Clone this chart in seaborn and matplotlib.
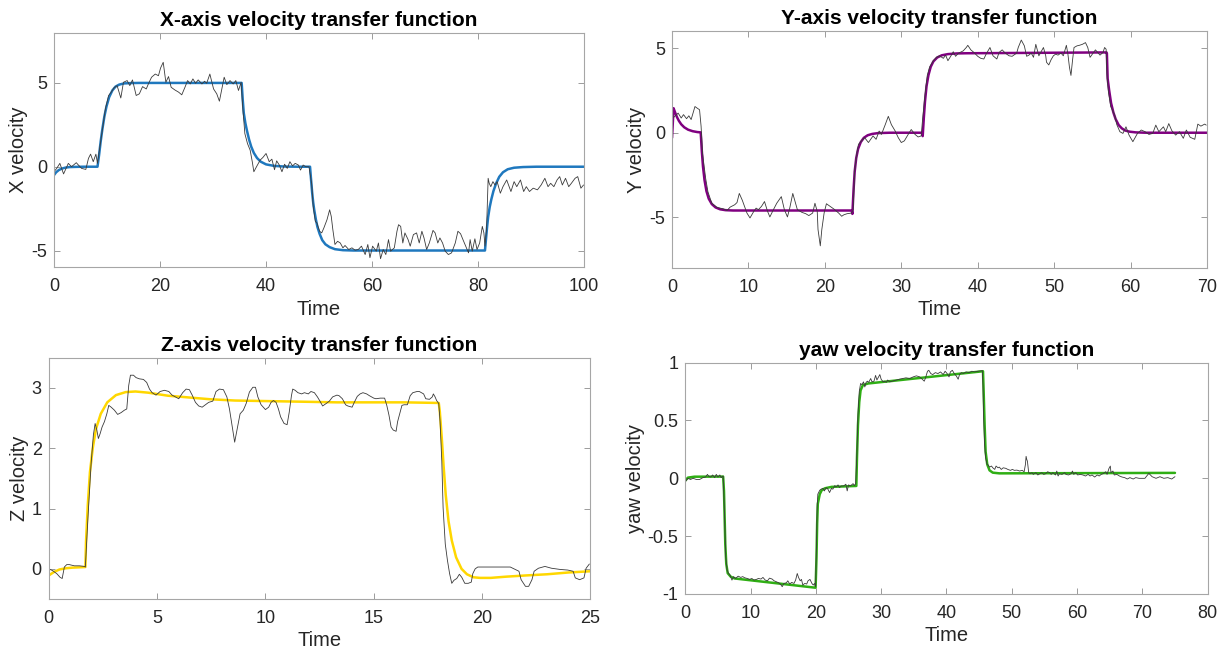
import matplotlib
matplotlib.use("Agg")
import matplotlib.pyplot as plt
import seaborn as sns
import pandas as pd

# ---------------- X axis ----------------
x_meas_t = [0, 0.5, 1.1, 1.8, 2.7, 3.3, 4.2, 4.6, 5.2, 6.0, 6.5, 6.9, 7.4, 7.9, 8.2,
            8.7, 9.2, 9.7, 10.3, 10.8, 11.3, 11.9, 12.6, 13.1, 13.8, 14.3, 14.8, 15.5,
            16.1, 16.7, 17.4, 17.8, 18.4, 19.1, 19.7, 20.1, 20.6, 21.1, 21.6, 22.1, 22.8,
            23.5, 24.1, 24.7, 25.2, 25.7, 26.2, 26.7, 27.2, 27.9, 28.4, 28.8, 29.4, 30.1,
            30.7, 31.2, 31.6, 32.1, 32.6, 33.2, 33.8, 34.3, 34.8, 35.3, 35.6, 36.0, 36.5,
            37.0, 37.4, 37.7, 38.2, 38.9, 39.4, 40.0, 40.6, 41.1, 41.6, 42.0, 42.5, 43.0,
            43.5, 44.0, 44.5, 45.0, 45.5, 46.1, 46.5, 47.0, 47.5, 48.1, 48.6, 48.9, 49.3,
            49.6, 50.1, 50.5, 50.9, 51.5, 52.0, 52.3, 52.6, 53.0, 53.5, 54.0, 54.5, 54.9,
            55.6, 56.2, 56.8, 57.4, 58.0, 58.7, 59.2, 59.6, 60.1, 60.8, 61.2, 61.6, 62.1,
            62.6, 63.1, 63.5, 64.2, 64.7, 65.0, 65.4, 65.8, 66.2, 66.8, 67.2, 67.8, 68.4,
            68.9, 69.4, 69.8, 70.3, 70.8, 71.5, 71.9, 72.4, 72.8, 73.3, 73.8, 74.4, 75.0,
            75.7, 76.2, 76.7, 77.2, 77.8, 78.2, 78.5, 78.9, 79.4, 79.8, 80.3, 80.8, 81.1,
            81.3, 81.6, 81.9, 82.1, 82.4, 82.8, 83.2, 83.6, 84.2, 84.7, 85.4, 86.2, 86.8,
            87.3, 88.0, 88.6, 89.1, 89.7, 90.4, 91.2, 91.9, 92.6, 93.2, 93.7, 94.3, 94.9,
            95.4, 95.9, 96.5, 97.1, 97.6, 98.3, 98.8, 99.4, 99.9]
x_meas_v = [-0.3, -0.1, 0.2, -0.43, 0.2, 0.0, 0.24, 0.1, -0.1, -0.16, 0.5, 0.75, 0.3, 0.75, 0.2,
            1.3, 2.37, 3.46, 4.25, 4.45, 4.7, 4.84, 4.1, 5.04, 5.14, 4.84, 5.18, 4.25,
            4.35, 4.78, 4.64, 4.94, 5.34, 5.53, 5.43, 5.89, 6.23, 5.04, 5.38, 4.74, 4.58,
            4.45, 4.29, 4.74, 5.14, 4.94, 5.24, 4.98, 5.18, 4.94, 5.1, 4.98, 5.53, 4.64,
            4.35, 3.91, 4.55, 5.34, 4.9, 5.14, 4.94, 5.14, 4.55, 5.04, 3.56, 1.98, 1.38,
            0.99, 0.3, -0.3, 0.0, 0.4, 0.55, 0.79, 0.3, 0.45, -0.18, 0.35, 0.1, -0.3,
            0.15, -0.1, 0.3, 0.05, 0.2, 0.1, -0.2, 0.1, 0.0, 0.0, -1.0, -2.37, -3.26,
            -3.36, -3.85, -3.95, -3.66, -3.16, -2.57, -2.96, -3.75, -4.64, -4.45, -4.55, -4.84, -4.7,
            -4.94, -4.84, -4.98, -4.94, -4.74, -5.24, -4.64, -5.43, -4.74, -5.04, -4.55, -5.49, -4.94,
            -5.24, -4.35, -5.04, -4.84, -3.85, -3.46, -3.56, -4.55, -3.95, -4.35, -4.74, -4.05, -3.95,
            -4.55, -3.85, -4.25, -4.94, -4.55, -3.8, -3.95, -4.55, -4.25, -4.55, -5.04, -5.24, -5.14,
            -4.55, -3.85, -4.0, -4.39, -4.84, -5.14, -4.35, -5.04, -4.3, -4.94, -4.55, -3.56, -3.95,
            -4.74, -3.75, -0.69, -0.99, -1.19, -0.89, -1.09, -0.89, -1.58, -1.19, -0.79, -1.48, -0.89,
            -1.19, -0.79, -1.48, -1.19, -1.48, -1.28, -1.38, -1.09, -0.69, -1.19, -0.99, -1.19, -0.79,
            -0.59, -1.09, -0.69, -1.19, -0.99, -0.69, -0.59, -1.28, -1.09]
x_model_t = [0, 0.4, 0.9, 1.5, 2.2, 3.0, 4.0, 5.5, 8.2,
             8.5, 8.8, 9.1, 9.5, 9.9, 10.4, 11.0, 11.6, 12.3, 13.2, 14.5, 16.0,
             35.4, 35.6, 35.8, 36.1, 36.4, 36.8, 37.2, 37.7, 38.3, 39.0, 40.0, 41.5, 43.5, 46.0,
             48.3, 48.5, 48.7, 48.9, 49.1, 49.4, 49.7, 50.1, 50.6, 51.2, 52.0, 53.0, 54.5, 56.5,
             81.3, 81.5, 81.7, 81.9, 82.2, 82.5, 82.9, 83.4, 84.0, 84.7, 85.6, 86.8, 88.5, 91.0, 100]
x_model_v = [-0.5, -0.33, -0.2, -0.11, -0.05, -0.02, -0.01, 0, 0,
             0.7, 1.5, 2.2, 3.0, 3.6, 4.15, 4.55, 4.78, 4.9, 4.97, 4.99, 5.0,
             5.0, 4.0, 3.2, 2.6, 2.15, 1.62, 1.2, 0.82, 0.52, 0.3, 0.14, 0.05, 0.01, 0,
             0, -0.8, -1.55, -2.15, -2.6, -3.15, -3.6, -4.0, -4.38, -4.63, -4.8, -4.92, -4.98, -5.0,
             -5.0, -4.3, -3.6, -3.0, -2.4, -1.95, -1.45, -1.0, -0.6, -0.33, -0.15, -0.06, -0.02, 0, 0]

# ---------------- Y axis ----------------
y_meas_t = [0.2, 0.35, 0.8, 1.2, 1.5, 1.9, 2.2, 2.5, 3.0, 3.3, 3.6, 3.8, 4.0, 4.4, 4.7, 5.2,
            5.9, 6.7, 7.2, 7.6, 8.2, 8.5, 8.8, 9.2, 9.8, 10.2, 10.7, 11.0, 11.3, 11.7, 12.1,
            12.5, 12.8, 13.3, 13.7, 14.3, 14.7, 15.1, 15.4, 15.8, 16.1, 16.4, 17.0, 17.5, 17.9,
            18.4, 18.7, 19.0, 19.1, 19.4, 19.6, 19.9, 20.2, 20.7, 21.2, 21.8, 22.2, 22.5, 22.9,
            23.5, 23.7, 23.9, 24.2, 24.4, 24.8, 25.2, 25.7, 26.0, 26.3, 26.7, 27.1, 27.4, 27.9,
            28.3, 28.7, 29.2, 29.6, 30.0, 30.4, 30.9, 31.3, 31.8, 32.2, 32.6, 32.8, 33.1, 33.4,
            33.7, 34.2, 34.6, 35.0, 35.5, 35.8, 36.1, 36.5, 36.8, 37.1, 37.5, 38.1, 38.5, 38.7,
            39.1, 39.5, 40.0, 40.4, 40.8, 41.1, 41.6, 42.0, 42.5, 42.8, 43.2, 43.6, 44.1, 44.5,
            45.1, 45.3, 45.7, 46.1, 46.4, 46.7, 47.0, 47.3, 47.6, 48.0, 48.3, 48.6, 48.9, 49.0,
            49.3, 49.6, 49.9, 50.2, 50.5, 50.9, 51.2, 51.6, 51.8, 52.0, 52.2, 52.4, 52.6, 53.0,
            53.3, 53.7, 54.1, 54.4, 54.7, 55.0, 55.4, 55.7, 56.0, 56.4, 56.6, 56.8, 56.9, 57.1,
            57.4, 57.9, 58.2, 58.6, 59.0, 59.4, 59.8, 60.3, 60.9, 61.4, 61.9, 62.4, 62.9, 63.3,
            63.7, 64.3, 64.6, 65.0, 65.4, 65.9, 66.4, 66.9, 67.3, 67.8, 68.4, 68.8, 69.2, 69.7, 69.9]
y_meas_v = [0.9, 0.97, 1.16, 0.87, 1.07, 0.83, 1.0, 0.78, 1.55, 1.45, 1.36, 0.39, -1.26, -2.7, -3.5, -4.17,
            -4.42, -4.5, -4.6, -4.4, -4.26, -4.13, -3.59, -4.0, -4.75, -5.04, -4.65, -4.46, -4.55, -4.36, -4.07,
            -4.65, -4.98, -4.52, -4.17, -3.78, -4.55, -4.98, -4.46, -3.59, -4.07, -4.55, -4.71, -4.79, -4.9,
            -4.75, -4.17, -4.65, -5.72, -6.69, -5.72, -4.75, -4.2, -4.36, -4.52, -4.75, -4.94, -4.85, -4.79,
            -4.75, -4.55, -2.23, -1.16, -0.68, -0.48, -0.29, -0.58, -0.39, -0.19, -0.39, 0.1, -0.1, 0.48,
            0.97, 0.48, 0.1, -0.29, -0.58, -0.48, -0.1, 0.19, -0.1, -0.25, -0.19, 0.87, 2.23, 3.39,
            3.88, 4.26, 4.46, 4.55, 4.4, 4.59, 4.26, 4.55, 4.79, 4.52, 4.71, 4.84, 5.04, 5.17,
            4.9, 4.75, 4.52, 4.4, 4.36, 4.65, 5.04, 4.55, 4.36, 4.75, 4.9, 4.71, 4.55, 4.52,
            4.71, 5.04, 5.48, 5.14, 4.52, 4.59, 4.71, 4.46, 5.23, 4.55, 4.79, 5.04, 4.55, 4.17,
            4.01, 4.32, 4.55, 4.65, 4.59, 4.71, 4.55, 5.17, 4.65, 3.88, 3.39, 4.26, 5.04, 5.14,
            5.17, 5.23, 5.33, 5.04, 4.46, 4.65, 4.9, 4.75, 4.59, 4.75, 5.04, 4.94, 3.49, 2.42,
            1.55, 1.07, 0.48, 0.06, -0.04, 0.35, -0.14, -0.53, -0.04, 0.16, 0.06, -0.1, -0.04, 0.45,
            0.06, 0.35, 0.06, 0.54, 0.12, -0.14, 0.06, -0.33, 0.16, -0.27, -0.39, 0.51, 0.39, 0.51, 0.45]
y_model_t = [0, 0.2, 0.4, 0.65, 0.9, 1.2, 1.6, 2.1, 2.7, 3.3, 3.75,
             3.9, 4.05, 4.25, 4.5, 4.8, 5.2, 5.7, 6.3, 7.0, 8.0, 9.5,
             23.5, 23.6, 23.75, 23.9, 24.1, 24.35, 24.7, 25.1, 25.6, 26.2, 27.0, 28.5,
             32.75, 32.8, 32.95, 33.1, 33.3, 33.55, 33.85, 34.2, 34.7, 35.3, 36.1, 37.3, 38.5,
             56.85, 56.9, 57.0, 57.2, 57.45, 57.75, 58.05, 58.45, 58.85, 59.3, 59.9, 60.7, 62.0, 70.0]
y_model_v = [-0.3, 1.45, 1.2, 0.92, 0.7, 0.5, 0.32, 0.18, 0.09, 0.04, 0.02,
             -1.1, -2.0, -2.8, -3.45, -3.9, -4.22, -4.42, -4.53, -4.58, -4.6, -4.6,
             -4.6, -4.8, -3.4, -2.3, -1.5, -0.95, -0.55, -0.3, -0.15, -0.07, -0.02, 0.0,
             0.0, -0.2, 0.9, 1.85, 2.75, 3.4, 3.9, 4.22, 4.45, 4.58, 4.65, 4.69, 4.7,
             4.75, 4.7, 3.2, 2.5, 1.75, 1.2, 0.8, 0.45, 0.26, 0.13, 0.06, 0.02, 0.0, 0.0]

# ---------------- Z axis ----------------
z_meas_t = [0, 0.18, 0.37, 0.52, 0.62, 0.72, 0.83, 0.95, 1.18, 1.42, 1.65, 1.69, 1.8, 1.95,
            2.06, 2.14, 2.22, 2.29, 2.37, 2.46, 2.57, 2.68, 2.77, 2.88, 3.03, 3.18, 3.34, 3.49,
            3.6, 3.69, 3.77, 3.91, 4.03, 4.18, 4.37, 4.52, 4.65, 4.77, 4.95, 5.14, 5.34, 5.54,
            5.69, 5.85, 6.0, 6.18, 6.34, 6.49, 6.62, 6.77, 6.92, 7.08, 7.23, 7.38, 7.57, 7.72,
            7.88, 8.06, 8.22, 8.34, 8.46, 8.58, 8.72, 8.83, 8.98, 9.11, 9.26, 9.42, 9.54, 9.65,
            9.8, 10.0, 10.15, 10.26, 10.37, 10.49, 10.6, 10.7, 10.86, 11.0, 11.1, 11.2, 11.26,
            11.37, 11.5, 11.67, 11.8, 11.98, 12.1, 12.26, 12.4, 12.5, 12.64, 12.8, 12.95, 13.1,
            13.3, 13.4, 13.55, 13.7, 13.8, 14.0, 14.1, 14.24, 14.37, 14.5, 14.67, 14.8, 15.0,
            15.1, 15.3, 15.5, 15.6, 15.7, 15.8, 15.9, 16.03, 16.1, 16.24, 16.3, 16.4, 16.55,
            16.68, 16.8, 17.0, 17.1, 17.3, 17.4, 17.57, 17.7, 17.75, 17.83, 17.9, 18.0, 18.06,
            18.14, 18.2, 18.3, 18.4, 18.5, 18.6, 18.7, 18.83, 18.95, 19.06, 19.2, 19.36, 19.5,
            19.57, 19.68, 19.8, 20.06, 20.4, 20.7, 21.1, 21.3, 21.7, 21.8, 22.0, 22.15, 22.3,
            22.4, 22.6, 22.9, 23.2, 23.6, 23.95, 24.2, 24.3, 24.5, 24.7, 24.8, 24.95]
z_meas_v = [0.0, -0.03, -0.08, -0.14, -0.16, 0.03, 0.07, 0.07, 0.05, 0.05, 0.04, 0.03, 0.79, 1.72,
            2.22, 2.41, 2.3, 2.16, 2.24, 2.35, 2.44, 2.57, 2.71, 2.68, 2.63, 2.56, 2.59, 2.63,
            2.65, 3.04, 3.21, 3.21, 3.17, 3.15, 3.14, 3.09, 2.98, 2.92, 2.88, 2.94, 2.96, 2.94,
            2.88, 2.85, 2.82, 2.92, 2.98, 2.97, 2.88, 2.76, 2.7, 2.68, 2.72, 2.76, 2.78, 2.94,
            2.98, 2.97, 2.85, 2.65, 2.38, 2.1, 2.36, 2.57, 2.63, 2.74, 2.93, 3.01, 3.01, 2.85,
            2.72, 2.64, 2.68, 2.76, 2.79, 2.76, 2.65, 2.52, 2.41, 2.39, 2.6, 2.87, 2.98,
            2.96, 2.92, 2.9, 2.92, 2.9, 2.94, 2.92, 2.85, 2.79, 2.7, 2.74, 2.78, 2.85,
            2.88, 2.87, 2.82, 2.72, 2.7, 2.68, 2.76, 2.86, 2.9, 2.92, 2.9, 2.87, 2.83,
            2.82, 2.83, 2.83, 2.71, 2.55, 2.35, 2.3, 2.28, 2.44, 2.63, 2.71, 2.72, 2.72,
            2.87, 2.92, 2.94, 2.94, 2.9, 2.82, 2.81, 2.85, 2.9, 2.85, 2.79, 2.74, 2.44,
            1.78, 1.01, 0.41, 0.14, -0.08, -0.24, -0.19, -0.16, -0.09, -0.14, -0.24, -0.24, -0.22,
            -0.08, 0.0, 0.03, 0.03, 0.03, 0.03, 0.03, 0.03, -0.04, -0.18, -0.29, -0.29, -0.18,
            -0.04, 0.01, 0.04, 0.01, -0.01, -0.02, -0.04, -0.15, -0.18, -0.15, 0.01, 0.08]
z_model_t = [0, 0.25, 0.5, 0.8, 1.1, 1.4, 1.69, 1.72, 1.8, 1.9, 2.03, 2.18, 2.4, 2.7, 3.1,
             3.55, 4.0, 4.6, 5.5, 6.5, 7.5, 8.6, 10.2, 11.8, 13.3, 14.8, 16.4, 18.0, 18.05,
             18.14, 18.22, 18.32, 18.45, 18.6, 18.8, 19.05, 19.3, 19.6, 19.9, 20.4, 21.1, 22.0,
             23.0, 24.0, 25.0]
z_model_v = [-0.11, -0.05, -0.01, 0.01, 0.02, 0.025, 0.03, 0.45, 1.05, 1.6, 2.0, 2.32, 2.57, 2.76, 2.88,
             2.93, 2.94, 2.92, 2.87, 2.84, 2.81, 2.79, 2.78, 2.77, 2.76, 2.76, 2.76, 2.75, 2.6,
             2.16, 1.72, 1.23, 0.79, 0.47, 0.19, 0.0, -0.09, -0.14, -0.15, -0.15, -0.13, -0.11,
             -0.09, -0.06, -0.04]

# ---------------- yaw ----------------
w_meas_t = [0, 0.4, 0.8, 1.2, 1.7, 2.2, 2.7, 3.1, 3.4, 3.6, 3.9, 4.2, 4.5, 4.75, 5.0, 5.3, 5.5, 5.8,
            5.93, 6.07, 6.2, 6.4, 6.6, 6.85, 7.15, 7.4, 7.7, 8.1, 8.5, 8.8, 9.1, 9.5, 9.85, 10.2,
            10.5, 10.9, 11.2, 11.6, 11.9, 12.25, 12.6, 12.9, 13.3, 13.6, 13.95, 14.3, 14.6, 14.85,
            15.1, 15.5, 15.7, 16.0, 16.3, 16.65, 16.9, 17.15, 17.35, 17.6, 17.8, 18.0, 18.3, 18.6,
            18.8, 19.1, 19.4, 19.6, 19.8, 19.96, 20.1, 20.2, 20.3, 20.6, 20.8, 21.1, 21.3, 21.6,
            21.85, 22.1, 22.4, 22.6, 22.9, 23.1, 23.4, 23.6, 23.9, 24.25, 24.6, 24.8, 25.0, 25.3,
            25.7, 25.9, 26.1, 26.3, 26.45, 26.65, 26.85, 27.05, 27.3, 27.5, 27.7, 27.9, 28.1, 28.4,
            28.6, 28.9, 29.15, 29.35, 29.6, 29.8, 30.0, 30.3, 30.5, 30.8, 31.0, 31.3, 31.65, 32.05,
            32.3, 32.8, 33.3, 33.8, 34.4, 34.9, 35.4, 35.9, 36.3, 36.6, 36.8, 37.1, 37.3, 37.6,
            37.9, 38.3, 38.7, 39.1, 39.5, 39.8, 40.1, 40.4, 40.6, 40.9, 41.2, 41.5, 41.8, 42.0,
            42.3, 42.6, 43.0, 43.5, 43.9, 44.3, 44.8, 45.5, 45.6, 45.7, 45.85, 46.0, 46.2, 46.4,
            46.6, 46.9, 47.1, 47.4, 47.6, 47.9, 48.1, 48.4, 48.7, 49.1, 49.4, 49.8, 50.1, 50.4,
            50.8, 51.2, 51.6, 51.9, 52.1, 52.2, 52.3, 52.4, 52.6, 52.8, 53.1, 53.3, 53.7, 54.0,
            54.3, 54.6, 54.9, 55.2, 55.5, 55.8, 56.05, 56.3, 56.7, 56.9, 57.1, 57.3, 57.7, 58.1,
            58.3, 58.7, 59.1, 59.3, 59.5, 59.8, 60.1, 60.5, 60.9, 61.3, 61.7, 62.0, 62.3, 62.7,
            63.1, 63.4, 63.7, 64.0, 64.4, 64.6, 64.9, 65.1, 65.2, 65.5, 65.7, 66.1, 66.5, 66.9,
            67.3, 67.7, 68.1, 68.6, 69.0, 69.5, 70.0, 70.4, 71.0, 71.5, 72.1, 72.7, 73.3, 73.9,
            74.5, 75.0]
w_meas_v = [-0.03, 0.0, -0.01, 0.0, -0.01, -0.01, 0.006, 0.011, 0.034, 0.017, 0.011, 0.029, 0.006,
            0.034, 0.011, 0.029, 0.006, 0.02,
            -0.166, -0.45, -0.68, -0.79, -0.82, -0.837, -0.88, -0.85, -0.866, -0.846, -0.857, -0.85,
            -0.86, -0.866, -0.874, -0.866,
            -0.88, -0.874, -0.866, -0.871, -0.857, -0.88, -0.886, -0.863, -0.871, -0.886, -0.894,
            -0.903, -0.917, -0.937,
            -0.909, -0.903, -0.886, -0.914, -0.9, -0.909, -0.88, -0.823, -0.857, -0.886, -0.874,
            -0.923, -0.909, -0.914,
            -0.886, -0.874, -0.909, -0.923, -0.909, -0.937, -0.566, -0.25, -0.137, -0.103, -0.094,
            -0.086, -0.109, -0.08,
            -0.094, -0.123, -0.086, -0.094, -0.063, -0.074, -0.057, -0.08, -0.066, -0.066, -0.051,
            -0.109, -0.057, -0.066,
            -0.046, -0.063, -0.046, 0.234, 0.55, 0.75, 0.82, 0.81, 0.834, 0.79, 0.83, 0.84, 0.83,
            0.863,
            0.834, 0.84, 0.89, 0.85, 0.877, 0.897, 0.857, 0.834, 0.84, 0.83, 0.85, 0.834, 0.84,
            0.846,
            0.849, 0.857, 0.863, 0.869, 0.863, 0.877, 0.886, 0.877, 0.857, 0.84, 0.869, 0.926,
            0.934, 0.906,
            0.897, 0.914, 0.906, 0.92, 0.897, 0.926, 0.906, 0.877, 0.92, 0.934, 0.906, 0.886,
            0.857, 0.897,
            0.914, 0.906, 0.92, 0.914, 0.926, 0.92, 0.926, 0.931, 0.806, 0.52, 0.29, 0.177, 0.126,
            0.114,
            0.097, 0.106, 0.091, 0.077, 0.106, 0.091, 0.097, 0.077, 0.091, 0.086, 0.077, 0.069,
            0.077, 0.069,
            0.071, 0.063, 0.069, 0.057, 0.12, 0.19, 0.163, 0.149, 0.049, 0.04, 0.049, 0.034, 0.049,
            0.029,
            0.04, 0.049, 0.034, 0.04, 0.057, 0.049, 0.034, 0.049, 0.029, 0.063, 0.02, 0.04, 0.034,
            0.049,
            0.034, 0.029, 0.04, 0.063, 0.034, 0.049, 0.029, 0.034, 0.029, 0.02, 0.034, 0.02, 0.029,
            0.011,
            0.029, 0.02, 0.034, 0.04, 0.057, 0.034, 0.086, 0.106, 0.049, 0.063, 0.029, 0.034, 0.02,
            0.011,
            0.006, -0.006, 0.006, -0.006, 0.006, 0.0, 0.0, 0.0, 0.043, 0.014, 0.0, 0.014, 0.0,
            0.006,
            -0.006, 0.014]
w_model_t = [0, 0.4, 1.4, 5.8, 5.93, 6.03, 6.13, 6.28, 6.5, 6.95, 7.56, 19.96, 20.1, 20.2, 20.3,
             20.6, 20.9, 21.4, 22.4, 26.2, 26.3, 26.45, 26.65, 26.85, 27.2, 28.0, 45.6, 45.7,
             45.85, 46.0, 46.25, 46.6, 47.1, 48.1, 75.0]
w_model_v = [-0.02, 0.006, 0.014, 0.015, -0.11, -0.34, -0.57, -0.74, -0.82, -0.85, -0.866, -0.946,
             -0.68, -0.39, -0.22, -0.137, -0.103, -0.086, -0.074, -0.066, 0.18, 0.46, 0.66, 0.76,
             0.806, 0.82, 0.926, 0.75, 0.46, 0.23, 0.12, 0.069, 0.049, 0.043, 0.047]

sns.set_theme(style="white")
plt.rcParams["font.family"] = ["Liberation Sans", "DejaVu Sans"]
plt.rcParams["axes.unicode_minus"] = False

fig = plt.figure(figsize=(12.25, 6.53), dpi=100)
fig.patch.set_facecolor("white")

panels = [
    dict(rect=[0.0441, 0.5907, 0.4327, 0.3593], meas=(x_meas_t, x_meas_v),
         model=(x_model_t, x_model_v), color="#1f78be", title="X-axis velocity transfer function",
         ylabel="X velocity", xlim=(0, 100), ylim=(-6, 8), xticks=range(0, 101, 20),
         yticks=[-5, 0, 5]),
    dict(rect=[0.5486, 0.5896, 0.4367, 0.3625], meas=(y_meas_t, y_meas_v),
         model=(y_model_t, y_model_v), color="#800080", title="Y-axis velocity transfer function",
         ylabel="Y velocity", xlim=(0, 70), ylim=(-8, 6), xticks=range(0, 71, 10),
         yticks=[-5, 0, 5]),
    dict(rect=[0.0398, 0.0827, 0.4422, 0.3695], meas=(z_meas_t, z_meas_v),
         model=(z_model_t, z_model_v), color="#ffd700", title="Z-axis velocity transfer function",
         ylabel="Z velocity", xlim=(0, 25), ylim=(-0.5, 3.5), xticks=range(0, 26, 5),
         yticks=[0, 1, 2, 3]),
    dict(rect=[0.5594, 0.0904, 0.4264, 0.3542], meas=(w_meas_t, w_meas_v),
         model=(w_model_t, w_model_v), color="#2fae14", title="yaw velocity transfer function",
         ylabel="yaw velocity", xlim=(0, 80), ylim=(-1, 1), xticks=range(0, 81, 10),
         yticks=[-1, -0.5, 0, 0.5, 1]),
]

for p in panels:
    ax = fig.add_axes(p["rect"])
    model = pd.DataFrame({"t": p["model"][0], "v": p["model"][1]})
    meas = pd.DataFrame({"t": p["meas"][0], "v": p["meas"][1]})
    sns.lineplot(data=model, x="t", y="v", ax=ax, color=p["color"], linewidth=1.8,
                 estimator=None, sort=False)
    sns.lineplot(data=meas, x="t", y="v", ax=ax, color="#3a3a3a", linewidth=0.6,
                 estimator=None, sort=False)
    ax.set_xlim(*p["xlim"])
    ax.set_ylim(*p["ylim"])
    ax.set_xticks(list(p["xticks"]))
    ax.set_yticks(p["yticks"])
    ax.set_yticklabels([f"{v:g}" for v in p["yticks"]])
    ax.set_title(p["title"], fontsize=15, fontweight="bold", color="black", pad=5)
    ax.set_xlabel("Time", fontsize=14.5, color="#262626", labelpad=3)
    ax.set_ylabel(p["ylabel"], fontsize=14.5, color="#262626", labelpad=2)
    ax.tick_params(axis="both", which="both", direction="in", length=4, width=0.6,
                   colors="#262626", labelsize=13, top=True, right=True,
                   bottom=True, left=True)
    ax.tick_params(axis="x", pad=8)
    ax.tick_params(axis="y", pad=5)
    ax.tick_params(axis="both", color="#8c8c8c")
    for s in ax.spines.values():
        s.set_color("#a6a6a6")
        s.set_linewidth(0.8)
    ax.set_facecolor("white")

fig.savefig("out.png", dpi=100, facecolor="white")
